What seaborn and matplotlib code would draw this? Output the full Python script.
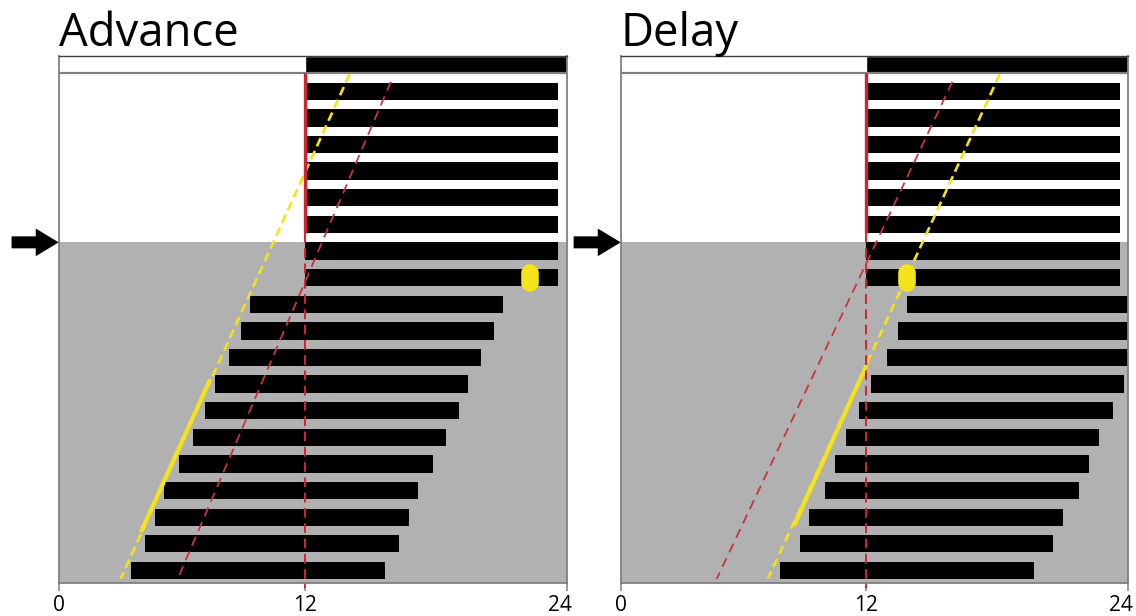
import matplotlib
matplotlib.use("Agg")
import matplotlib.pyplot as plt
import matplotlib.transforms as mtransforms
from matplotlib.patches import FancyArrow
import numpy as np
import pandas as pd
import seaborn as sns

# ---- data -----------------------------------------------------------------
days = list(range(1, 20))
hour_ticks = [0, 12, 24]
hour_labels = ["0", "12", "24"]
panel_titles = ["Advance", "Delay"]

# activity bouts per day (onset / offset, hours)
advance_onset = [12, 12, 12, 12, 12, 12, 12, 12,
                 9.35, 8.89, 8.29, 7.62, 7.16, 6.55, 5.89, 5.16, 4.69, 4.22, 3.52]
advance_offset = [23.61, 23.61, 23.61, 23.61, 23.61, 23.61, 23.61, 23.61,
                  21.1, 20.66, 20.09, 19.5, 19.06, 18.48, 17.87, 17.19, 16.76, 16.32, 15.66]
delay_onset = [12, 12, 12, 12, 12, 12, 12, 12,
               13.87, 13.45, 12.96, 12.21, 11.62, 10.98, 10.45, 10.0, 9.22, 8.75, 7.8]
delay_offset = [23.62, 23.62, 23.62, 23.62, 23.62, 23.62, 23.62, 23.62,
                25.87, 25.45, 24.96, 23.81, 23.28, 22.66, 22.18, 21.75, 21.0, 20.56, 19.67]

# fitted onset lines (day, hour) - dashed yellow, its solid stretch, dashed red
advance_fit_days = [0.36, 19.3]
advance_fit_hours = [14.06, 3.03]
advance_solid_days = [11.87, 17.51]
advance_solid_hours = [7.36, 4.04]
advance_ref_days = [0.64, 19.17]
advance_ref_hours = [15.95, 5.89]

delay_fit_days = [0.36, 19.3]
delay_fit_hours = [18.11, 7.2]
delay_solid_days = [11.35, 17.26]
delay_solid_hours = [11.97, 8.5]
delay_ref_days = [0.64, 19.33]
delay_ref_hours = [15.94, 4.68]

# light pulse
pulse_day = 8
advance_pulse_hour = 22.34
delay_pulse_hour = 13.87

lights_off_day = 6.675       # constant darkness from here on
lights_on_hours = [0, 12]    # light phase of the LD cycle
lights_dark_hours = [12, 24]

# ---- style -----------------------------------------------------------------
sns.set_theme(style="white")
plt.rcParams["font.family"] = ["Open Sans", "DejaVu Sans"]
plt.rcParams["lines.scale_dashes"] = False

BAR_H = 0.65
GREY_BG = "#b1b1b1"
FRAME = "#808080"
YELLOW = "#f4e31a"
RED_DIAG = "#c8343f"
RED_LINE = "#d42230"

# the dark half of the day is drawn slightly wider than the light half
DARK_STRETCH = 1.066


def hours_forward(h):
    h = np.asarray(h, dtype=float)
    return np.where(h <= 12, h, 12 + (h - 12) * DARK_STRETCH)


def hours_inverse(x):
    x = np.asarray(x, dtype=float)
    return np.where(x <= 12, x, 12 + (x - 12) / DARK_STRETCH)


fig = plt.figure(figsize=(11.36, 6.16), dpi=100)
ax_adv = fig.add_axes([0.05167, 0.05406, 0.4472, 0.8550])
ax_del = fig.add_axes([0.5464, 0.05406, 0.4468, 0.8550])

Y_TOP, Y_BOTTOM = -BAR_H / 2, 19.46


def draw_panel(ax, title, onset, offset, fit_d, fit_h, solid_d, solid_h,
               ref_d, ref_h, pulse_hour):
    df = pd.DataFrame({"day": days, "onset": onset, "offset": offset})
    df["length"] = df["offset"] - df["onset"]

    ax.set_xscale("function", functions=(hours_forward, hours_inverse))
    ax.set_facecolor("white")
    ax.set_xlim(0, 24)
    ax.set_ylim(Y_BOTTOM, Y_TOP)

    # constant darkness background
    ax.axhspan(lights_off_day, Y_BOTTOM, color=GREY_BG, zorder=0, lw=0)

    # LD bar on top
    ax.barh(0, lights_on_hours[1] - lights_on_hours[0], left=lights_on_hours[0],
            height=BAR_H, color="white", zorder=2)
    ax.barh(0, lights_dark_hours[1] - lights_dark_hours[0], left=lights_dark_hours[0],
            height=BAR_H, color="black", zorder=2)
    ax.axhline(BAR_H / 2, color=FRAME, lw=1.6, zorder=3)

    # activity bars
    ax.barh(df["day"], df["length"], left=df["onset"], height=BAR_H,
            color="black", lw=0, zorder=2)

    # lights-off reference at 12 h
    ax.plot([12, 12], [BAR_H / 2, lights_off_day - 0.36], color=RED_LINE,
            lw=2.4, zorder=4, solid_capstyle="butt")
    ax.plot([12, 12], [lights_off_day - 0.36, 19.66], color=RED_LINE, lw=1.4,
            linestyle=(0, (7, 4)), zorder=4, clip_on=False)

    # onset lines
    ax.plot(ref_h, ref_d, color=RED_DIAG, lw=1.3, linestyle=(0, (7, 4.5)), zorder=3)
    ax.plot(fit_h, fit_d, color=YELLOW, lw=1.9, linestyle=(0, (6.5, 3.6)), zorder=3)
    ax.plot(solid_h, solid_d, color=YELLOW, lw=3.0, zorder=3, solid_capstyle="round")

    # light pulse
    ax.plot([pulse_hour, pulse_hour], [pulse_day - 0.19, pulse_day + 0.19],
            color=YELLOW, lw=12.7, solid_capstyle="round", zorder=5)

    # arrow marking lights off
    ax.add_patch(FancyArrow(-2.3, lights_off_day, 2.3, 0, width=0.45,
                            head_width=1.04, head_length=1.12,
                            length_includes_head=True, color="black",
                            lw=0, clip_on=False, zorder=6))

    # frame and ticks
    for side, sp in ax.spines.items():
        sp.set_visible(True)
        sp.set_color(FRAME)
        sp.set_linewidth(1.3)
    ax.spines["top"].set_color("#404040")
    ax.spines["top"].set_linewidth(1.0)
    ax.set_yticks([])
    ax.set_xticks(hour_ticks, hour_labels)
    ax.tick_params(axis="x", bottom=True, direction="out", length=5.8, width=1.1,
                   color=FRAME, pad=3, labelsize=15, labelcolor="black")
    ax.set_xlabel("")
    ax.set_ylabel("")
    # nudge the end-of-day label inwards
    last = ax.get_xticklabels()[-1]
    last.set_transform(last.get_transform()
                       + mtransforms.ScaledTranslation(-0.07, 0, fig.dpi_scale_trans))

    offset_tr = mtransforms.offset_copy(ax.transAxes, fig=fig, x=0, y=10, units="dots")
    ax.text(0, 1, title, transform=offset_tr, ha="left", va="baseline",
            fontsize=32.8, color="black")


draw_panel(ax_adv, panel_titles[0], advance_onset, advance_offset,
           advance_fit_days, advance_fit_hours, advance_solid_days, advance_solid_hours,
           advance_ref_days, advance_ref_hours, advance_pulse_hour)
draw_panel(ax_del, panel_titles[1], delay_onset, delay_offset,
           delay_fit_days, delay_fit_hours, delay_solid_days, delay_solid_hours,
           delay_ref_days, delay_ref_hours, delay_pulse_hour)

fig.savefig("out.png", dpi=100)
